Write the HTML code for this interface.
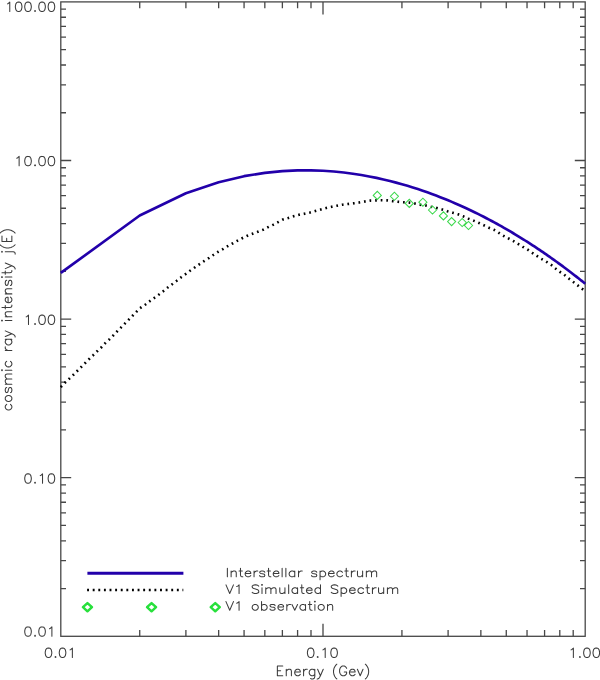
<!DOCTYPE html>
<html><head><meta charset="utf-8"><style>
html,body{margin:0;padding:0;background:#fff;}
svg{display:block;will-change:transform;}
text{font-family:"Liberation Sans",sans-serif;font-size:14.5px;fill:#3c3c3c;}
</style></head><body>
<svg width="600" height="680" viewBox="0 0 600 680">
<rect x="60.8" y="1.9" width="524.4000000000001" height="634.4" fill="none" stroke="#474747" stroke-width="1.3"/>
<path d="M139.73 636.3V630.00M139.73 1.9V8.20M185.90 636.3V630.00M185.90 1.9V8.20M218.66 636.3V630.00M218.66 1.9V8.20M244.07 636.3V630.00M244.07 1.9V8.20M264.83 636.3V630.00M264.83 1.9V8.20M282.38 636.3V630.00M282.38 1.9V8.20M297.59 636.3V630.00M297.59 1.9V8.20M311.00 636.3V630.00M311.00 1.9V8.20M323.00 636.3V623.70M323.00 1.9V14.50M401.93 636.3V630.00M401.93 1.9V8.20M448.10 636.3V630.00M448.10 1.9V8.20M480.86 636.3V630.00M480.86 1.9V8.20M506.27 636.3V630.00M506.27 1.9V8.20M527.03 636.3V630.00M527.03 1.9V8.20M544.58 636.3V630.00M544.58 1.9V8.20M559.79 636.3V630.00M559.79 1.9V8.20M573.20 636.3V630.00M573.20 1.9V8.20M60.8 588.56H66.00M585.2 588.56H580.00M60.8 560.63H66.00M585.2 560.63H580.00M60.8 540.81H66.00M585.2 540.81H580.00M60.8 525.44H66.00M585.2 525.44H580.00M60.8 512.89H66.00M585.2 512.89H580.00M60.8 502.27H66.00M585.2 502.27H580.00M60.8 493.07H66.00M585.2 493.07H580.00M60.8 484.96H66.00M585.2 484.96H580.00M60.8 477.70H71.20M585.2 477.70H574.80M60.8 429.96H66.00M585.2 429.96H580.00M60.8 402.03H66.00M585.2 402.03H580.00M60.8 382.21H66.00M585.2 382.21H580.00M60.8 366.84H66.00M585.2 366.84H580.00M60.8 354.29H66.00M585.2 354.29H580.00M60.8 343.67H66.00M585.2 343.67H580.00M60.8 334.47H66.00M585.2 334.47H580.00M60.8 326.36H66.00M585.2 326.36H580.00M60.8 319.10H71.20M585.2 319.10H574.80M60.8 271.36H66.00M585.2 271.36H580.00M60.8 243.43H66.00M585.2 243.43H580.00M60.8 223.61H66.00M585.2 223.61H580.00M60.8 208.24H66.00M585.2 208.24H580.00M60.8 195.69H66.00M585.2 195.69H580.00M60.8 185.07H66.00M585.2 185.07H580.00M60.8 175.87H66.00M585.2 175.87H580.00M60.8 167.76H66.00M585.2 167.76H580.00M60.8 160.50H71.20M585.2 160.50H574.80M60.8 112.76H66.00M585.2 112.76H580.00M60.8 84.83H66.00M585.2 84.83H580.00M60.8 65.01H66.00M585.2 65.01H580.00M60.8 49.64H66.00M585.2 49.64H580.00M60.8 37.09H66.00M585.2 37.09H580.00M60.8 26.47H66.00M585.2 26.47H580.00M60.8 17.27H66.00M585.2 17.27H580.00M60.8 9.16H66.00M585.2 9.16H580.00" stroke="#474747" stroke-width="1.3" fill="none"/>
<path d="M7.43 3.88L8.36 3.44L9.77 2.10L9.77 11.45M18.19 2.10L16.79 2.55L15.85 3.88L15.38 6.11L15.38 7.44L15.85 9.67L16.79 11.00L18.19 11.45L19.13 11.45L20.53 11.00L21.47 9.67L21.94 7.44L21.94 6.11L21.47 3.88L20.53 2.55L19.13 2.10L18.19 2.10M27.55 2.10L26.15 2.55L25.21 3.88L24.74 6.11L24.74 7.44L25.21 9.67L26.15 11.00L27.55 11.45L28.49 11.45L29.89 11.00L30.83 9.67L31.30 7.44L31.30 6.11L30.83 3.88L29.89 2.55L28.49 2.10L27.55 2.10M35.04 10.56L34.57 11.00L35.04 11.45L35.51 11.00L35.04 10.56M41.59 2.10L40.19 2.55L39.25 3.88L38.78 6.11L38.78 7.44L39.25 9.67L40.19 11.00L41.59 11.45L42.53 11.45L43.93 11.00L44.87 9.67L45.34 7.44L45.34 6.11L44.87 3.88L43.93 2.55L42.53 2.10L41.59 2.10M50.95 2.10L49.55 2.55L48.61 3.88L48.14 6.11L48.14 7.44L48.61 9.67L49.55 11.00L50.95 11.45L51.89 11.45L53.29 11.00L54.23 9.67L54.70 7.44L54.70 6.11L54.23 3.88L53.29 2.55L51.89 2.10L50.95 2.10M16.79 158.19L17.72 157.74L19.13 156.41L19.13 165.75M27.55 156.41L26.15 156.85L25.21 158.19L24.74 160.41L24.74 161.75L25.21 163.97L26.15 165.31L27.55 165.75L28.49 165.75L29.89 165.31L30.83 163.97L31.30 161.75L31.30 160.41L30.83 158.19L29.89 156.85L28.49 156.41L27.55 156.41M35.04 164.86L34.57 165.31L35.04 165.75L35.51 165.31L35.04 164.86M41.59 156.41L40.19 156.85L39.25 158.19L38.78 160.41L38.78 161.75L39.25 163.97L40.19 165.31L41.59 165.75L42.53 165.75L43.93 165.31L44.87 163.97L45.34 161.75L45.34 160.41L44.87 158.19L43.93 156.85L42.53 156.41L41.59 156.41M50.95 156.41L49.55 156.85L48.61 158.19L48.14 160.41L48.14 161.75L48.61 163.97L49.55 165.31L50.95 165.75L51.89 165.75L53.29 165.31L54.23 163.97L54.70 161.75L54.70 160.41L54.23 158.19L53.29 156.85L51.89 156.41L50.95 156.41M26.15 316.88L27.08 316.44L28.49 315.10L28.49 324.45M35.04 323.56L34.57 324.00L35.04 324.45L35.51 324.00L35.04 323.56M41.59 315.10L40.19 315.55L39.25 316.88L38.78 319.11L38.78 320.44L39.25 322.67L40.19 324.00L41.59 324.45L42.53 324.45L43.93 324.00L44.87 322.67L45.34 320.44L45.34 319.11L44.87 316.88L43.93 315.55L42.53 315.10L41.59 315.10M50.95 315.10L49.55 315.55L48.61 316.88L48.14 319.11L48.14 320.44L48.61 322.67L49.55 324.00L50.95 324.45L51.89 324.45L53.29 324.00L54.23 322.67L54.70 320.44L54.70 319.11L54.23 316.88L53.29 315.55L51.89 315.10L50.95 315.10M27.55 473.85L26.15 474.30L25.21 475.63L24.74 477.86L24.74 479.19L25.21 481.42L26.15 482.75L27.55 483.20L28.49 483.20L29.89 482.75L30.83 481.42L31.30 479.19L31.30 477.86L30.83 475.63L29.89 474.30L28.49 473.85L27.55 473.85M35.04 482.31L34.57 482.75L35.04 483.20L35.51 482.75L35.04 482.31M40.19 475.63L41.12 475.19L42.53 473.85L42.53 483.20M50.95 473.85L49.55 474.30L48.61 475.63L48.14 477.86L48.14 479.19L48.61 481.42L49.55 482.75L50.95 483.20L51.89 483.20L53.29 482.75L54.23 481.42L54.70 479.19L54.70 477.86L54.23 475.63L53.29 474.30L51.89 473.85L50.95 473.85M27.55 626.90L26.15 627.35L25.21 628.68L24.74 630.91L24.74 632.25L25.21 634.47L26.15 635.80L27.55 636.25L28.49 636.25L29.89 635.80L30.83 634.47L31.30 632.25L31.30 630.91L30.83 628.68L29.89 627.35L28.49 626.90L27.55 626.90M35.04 635.36L34.57 635.80L35.04 636.25L35.51 635.80L35.04 635.36M41.59 626.90L40.19 627.35L39.25 628.68L38.78 630.91L38.78 632.25L39.25 634.47L40.19 635.80L41.59 636.25L42.53 636.25L43.93 635.80L44.87 634.47L45.34 632.25L45.34 630.91L44.87 628.68L43.93 627.35L42.53 626.90L41.59 626.90M49.55 628.68L50.48 628.24L51.89 626.90L51.89 636.25M48.03 648.11L46.63 648.55L45.69 649.88L45.22 652.11L45.22 653.45L45.69 655.67L46.63 657.00L48.03 657.45L48.97 657.45L50.37 657.00L51.31 655.67L51.78 653.45L51.78 652.11L51.31 649.88L50.37 648.55L48.97 648.11L48.03 648.11M55.52 656.56L55.05 657.00L55.52 657.45L55.99 657.00L55.52 656.56M62.07 648.11L60.67 648.55L59.73 649.88L59.26 652.11L59.26 653.45L59.73 655.67L60.67 657.00L62.07 657.45L63.01 657.45L64.41 657.00L65.35 655.67L65.82 653.45L65.82 652.11L65.35 649.88L64.41 648.55L63.01 648.11L62.07 648.11M70.03 649.88L70.96 649.44L72.37 648.11L72.37 657.45M310.23 648.11L308.83 648.55L307.89 649.88L307.42 652.11L307.42 653.45L307.89 655.67L308.83 657.00L310.23 657.45L311.17 657.45L312.57 657.00L313.51 655.67L313.98 653.45L313.98 652.11L313.51 649.88L312.57 648.55L311.17 648.11L310.23 648.11M317.72 656.56L317.25 657.00L317.72 657.45L318.19 657.00L317.72 656.56M322.87 649.88L323.80 649.44L325.21 648.11L325.21 657.45M333.63 648.11L332.23 648.55L331.29 649.88L330.82 652.11L330.82 653.45L331.29 655.67L332.23 657.00L333.63 657.45L334.57 657.45L335.97 657.00L336.91 655.67L337.38 653.45L337.38 652.11L336.91 649.88L335.97 648.55L334.57 648.11L333.63 648.11M571.03 649.88L571.96 649.44L573.37 648.11L573.37 657.45M579.92 656.56L579.45 657.00L579.92 657.45L580.39 657.00L579.92 656.56M586.47 648.11L585.07 648.55L584.13 649.88L583.66 652.11L583.66 653.45L584.13 655.67L585.07 657.00L586.47 657.45L587.41 657.45L588.81 657.00L589.75 655.67L590.22 653.45L590.22 652.11L589.75 649.88L588.81 648.55L587.41 648.11L586.47 648.11M595.83 648.11L594.43 648.55L593.49 649.88L593.02 652.11L593.02 653.45L593.49 655.67L594.43 657.00L595.83 657.45L596.77 657.45L598.17 657.00L599.11 655.67L599.58 653.45L599.58 652.11L599.11 649.88L598.17 648.55L596.77 648.11L595.83 648.11M277.37 666.05L277.37 675.75M277.37 666.05L282.75 666.05M277.37 670.67L280.65 670.67M277.37 675.75L282.75 675.75M286.26 669.28L286.26 675.75M286.26 671.13L287.67 669.74L288.60 669.28L290.01 669.28L290.94 669.74L291.41 671.13L291.41 675.75M294.69 672.05L300.30 672.05L300.30 671.13L299.83 670.21L299.37 669.74L298.43 669.28L297.03 669.28L296.09 669.74L295.15 670.67L294.69 672.05L294.69 672.98L295.15 674.36L296.09 675.29L297.03 675.75L298.43 675.75L299.37 675.29L300.30 674.36M303.58 669.28L303.58 675.75M303.58 672.05L304.05 670.67L304.98 669.74L305.92 669.28L307.32 669.28M314.81 669.28L314.81 676.67L314.34 678.06L313.87 678.52L312.94 678.98L311.53 678.98L310.60 678.52M314.81 670.67L313.87 669.74L312.94 669.28L311.53 669.28L310.60 669.74L309.66 670.67L309.19 672.05L309.19 672.98L309.66 674.36L310.60 675.29L311.53 675.75L312.94 675.75L313.87 675.29L314.81 674.36M317.62 669.28L320.43 675.75M323.23 669.28L320.43 675.75L319.49 677.60L318.55 678.52L317.62 678.98L317.15 678.98M336.81 664.20L335.87 665.12L334.93 666.51L334.00 668.36L333.53 670.67L333.53 672.52L334.00 674.83L334.93 676.67L335.87 678.06L336.81 678.98M346.63 668.36L346.17 667.43L345.23 666.51L344.29 666.05L342.42 666.05L341.49 666.51L340.55 667.43L340.08 668.36L339.61 669.74L339.61 672.05L340.08 673.44L340.55 674.36L341.49 675.29L342.42 675.75L344.29 675.75L345.23 675.29L346.17 674.36L346.63 673.44L346.63 672.05M344.29 672.05L346.63 672.05M349.44 672.05L355.06 672.05L355.06 671.13L354.59 670.21L354.12 669.74L353.19 669.28L351.78 669.28L350.85 669.74L349.91 670.67L349.44 672.05L349.44 672.98L349.91 674.36L350.85 675.29L351.78 675.75L353.19 675.75L354.12 675.29L355.06 674.36M357.40 669.28L360.21 675.75M363.01 669.28L360.21 675.75M365.35 664.20L366.29 665.12L367.23 666.51L368.16 668.36L368.63 670.67L368.63 672.52L368.16 674.83L367.23 676.67L366.29 678.06L365.35 678.98M6.68 404.33L5.74 405.27L5.27 406.21L5.27 407.61L5.74 408.55L6.68 409.48L8.09 409.95L9.03 409.95L10.44 409.48L11.38 408.55L11.85 407.61L11.85 406.21L11.38 405.27L10.44 404.33M5.27 399.19L5.74 400.12L6.68 401.06L8.09 401.53L9.03 401.53L10.44 401.06L11.38 400.12L11.85 399.19L11.85 397.78L11.38 396.85L10.44 395.91L9.03 395.44L8.09 395.44L6.68 395.91L5.74 396.85L5.27 397.78L5.27 399.19M6.68 387.49L5.74 387.95L5.27 389.36L5.27 390.76L5.74 392.17L6.68 392.63L7.62 392.17L8.09 391.23L8.56 388.89L9.03 387.95L9.97 387.49L10.44 387.49L11.38 387.95L11.85 389.36L11.85 390.76L11.38 392.17L10.44 392.63M5.27 384.21L11.85 384.21M7.15 384.21L5.74 382.81L5.27 381.87L5.27 380.47L5.74 379.53L7.15 379.06L11.85 379.06M7.15 379.06L5.74 377.66L5.27 376.72L5.27 375.32L5.74 374.38L7.15 373.91L11.85 373.91M1.98 370.64L2.45 370.17L1.98 369.70L1.51 370.17L1.98 370.64M5.27 370.17L11.85 370.17M6.68 361.28L5.74 362.21L5.27 363.15L5.27 364.55L5.74 365.49L6.68 366.43L8.09 366.89L9.03 366.89L10.44 366.43L11.38 365.49L11.85 364.55L11.85 363.15L11.38 362.21L10.44 361.28M5.27 350.51L11.85 350.51M8.09 350.51L6.68 350.05L5.74 349.11L5.27 348.17L5.27 346.77M5.27 339.28L11.85 339.28M6.68 339.28L5.74 340.22L5.27 341.15L5.27 342.56L5.74 343.49L6.68 344.43L8.09 344.90L9.03 344.90L10.44 344.43L11.38 343.49L11.85 342.56L11.85 341.15L11.38 340.22L10.44 339.28M5.27 336.47L11.85 333.67M5.27 330.86L11.85 333.67L13.73 334.60L14.67 335.54L15.14 336.47L15.14 336.94M1.98 321.03L2.45 320.56L1.98 320.09L1.51 320.56L1.98 321.03M5.27 320.56L11.85 320.56M5.27 316.82L11.85 316.82M7.15 316.82L5.74 315.41L5.27 314.48L5.27 313.07L5.74 312.14L7.15 311.67L11.85 311.67M1.98 307.46L9.97 307.46L11.38 306.99L11.85 306.05L11.85 305.12M5.27 308.86L5.27 305.59M8.09 302.78L8.09 297.16L7.15 297.16L6.21 297.63L5.74 298.10L5.27 299.03L5.27 300.44L5.74 301.37L6.68 302.31L8.09 302.78L9.03 302.78L10.44 302.31L11.38 301.37L11.85 300.44L11.85 299.03L11.38 298.10L10.44 297.16M5.27 293.89L11.85 293.89M7.15 293.89L5.74 292.48L5.27 291.55L5.27 290.14L5.74 289.21L7.15 288.74L11.85 288.74M6.68 280.31L5.74 280.78L5.27 282.19L5.27 283.59L5.74 284.99L6.68 285.46L7.62 284.99L8.09 284.06L8.56 281.72L9.03 280.78L9.97 280.31L10.44 280.31L11.38 280.78L11.85 282.19L11.85 283.59L11.38 284.99L10.44 285.46M1.98 277.51L2.45 277.04L1.98 276.57L1.51 277.04L1.98 277.51M5.27 277.04L11.85 277.04M1.98 272.83L9.97 272.83L11.38 272.36L11.85 271.42L11.85 270.49M5.27 274.23L5.27 270.95M5.27 268.61L11.85 265.81M5.27 263.00L11.85 265.81L13.73 266.74L14.67 267.68L15.14 268.61L15.14 269.08M1.98 252.23L2.45 251.77L1.98 251.30L1.51 251.77L1.98 252.23M5.27 251.77L13.26 251.77L14.67 252.23L15.14 253.17L15.14 254.11M0.10 244.75L1.04 245.68L2.45 246.62L4.33 247.55L6.68 248.02L8.56 248.02L10.91 247.55L12.79 246.62L14.20 245.68L15.14 244.75M1.98 241.47L11.85 241.47M1.98 241.47L1.98 236.09M6.68 241.47L6.68 238.19M11.85 241.47L11.85 236.09M0.10 233.05L1.04 232.11L2.45 231.17L4.33 230.24L6.68 229.77L8.56 229.77L10.91 230.24L12.79 231.17L14.20 232.11L15.14 233.05M227.37 568.19L227.37 576.80M231.12 571.06L231.12 576.80M231.12 572.70L232.52 571.47L233.46 571.06L234.86 571.06L235.80 571.47L236.26 572.70L236.26 576.80M240.48 568.19L240.48 575.16L240.94 576.39L241.88 576.80L242.82 576.80M239.07 571.06L242.35 571.06M245.16 573.52L250.77 573.52L250.77 572.70L250.30 571.88L249.84 571.47L248.90 571.06L247.50 571.06L246.56 571.47L245.62 572.29L245.16 573.52L245.16 574.34L245.62 575.57L246.56 576.39L247.50 576.80L248.90 576.80L249.84 576.39L250.77 575.57M254.05 571.06L254.05 576.80M254.05 573.52L254.52 572.29L255.45 571.47L256.39 571.06L257.79 571.06M264.81 572.29L264.34 571.47L262.94 571.06L261.54 571.06L260.13 571.47L259.66 572.29L260.13 573.11L261.07 573.52L263.41 573.93L264.34 574.34L264.81 575.16L264.81 575.57L264.34 576.39L262.94 576.80L261.54 576.80L260.13 576.39L259.66 575.57M268.56 568.19L268.56 575.16L269.02 576.39L269.96 576.80L270.90 576.80M267.15 571.06L270.43 571.06M273.24 573.52L278.85 573.52L278.85 572.70L278.38 571.88L277.92 571.47L276.98 571.06L275.58 571.06L274.64 571.47L273.70 572.29L273.24 573.52L273.24 574.34L273.70 575.57L274.64 576.39L275.58 576.80L276.98 576.80L277.92 576.39L278.85 575.57M282.13 568.19L282.13 576.80M285.87 568.19L285.87 576.80M294.76 571.06L294.76 576.80M294.76 572.29L293.83 571.47L292.89 571.06L291.49 571.06L290.55 571.47L289.62 572.29L289.15 573.52L289.15 574.34L289.62 575.57L290.55 576.39L291.49 576.80L292.89 576.80L293.83 576.39L294.76 575.57M298.51 571.06L298.51 576.80M298.51 573.52L298.98 572.29L299.91 571.47L300.85 571.06L302.25 571.06M316.76 572.29L316.29 571.47L314.89 571.06L313.48 571.06L312.08 571.47L311.61 572.29L312.08 573.11L313.02 573.52L315.36 573.93L316.29 574.34L316.76 575.16L316.76 575.57L316.29 576.39L314.89 576.80L313.48 576.80L312.08 576.39L311.61 575.57M320.04 571.06L320.04 579.67M320.04 572.29L320.97 571.47L321.91 571.06L323.31 571.06L324.25 571.47L325.18 572.29L325.65 573.52L325.65 574.34L325.18 575.57L324.25 576.39L323.31 576.80L321.91 576.80L320.97 576.39L320.04 575.57M328.46 573.52L334.08 573.52L334.08 572.70L333.61 571.88L333.14 571.47L332.20 571.06L330.80 571.06L329.86 571.47L328.93 572.29L328.46 573.52L328.46 574.34L328.93 575.57L329.86 576.39L330.80 576.80L332.20 576.80L333.14 576.39L334.08 575.57M342.50 572.29L341.56 571.47L340.63 571.06L339.22 571.06L338.29 571.47L337.35 572.29L336.88 573.52L336.88 574.34L337.35 575.57L338.29 576.39L339.22 576.80L340.63 576.80L341.56 576.39L342.50 575.57M346.24 568.19L346.24 575.16L346.71 576.39L347.65 576.80L348.58 576.80M344.84 571.06L348.12 571.06M351.39 571.06L351.39 576.80M351.39 573.52L351.86 572.29L352.80 571.47L353.73 571.06L355.14 571.06M357.48 571.06L357.48 575.16L357.94 576.39L358.88 576.80L360.28 576.80L361.22 576.39L362.62 575.16M362.62 571.06L362.62 576.80M366.37 571.06L366.37 576.80M366.37 572.70L367.77 571.47L368.71 571.06L370.11 571.06L371.05 571.47L371.52 572.70L371.52 576.80M371.52 572.70L372.92 571.47L373.86 571.06L375.26 571.06L376.20 571.47L376.66 572.70L376.66 576.80M225.97 584.89L229.71 593.50M233.46 584.89L229.71 593.50M236.73 586.53L237.67 586.12L239.07 584.89L239.07 593.50M258.73 586.12L257.79 585.30L256.39 584.89L254.52 584.89L253.11 585.30L252.18 586.12L252.18 586.94L252.64 587.76L253.11 588.17L254.05 588.58L256.86 589.40L257.79 589.81L258.26 590.22L258.73 591.04L258.73 592.27L257.79 593.09L256.39 593.50L254.52 593.50L253.11 593.09L252.18 592.27M261.54 584.89L262.00 585.30L262.47 584.89L262.00 584.48L261.54 584.89M262.00 587.76L262.00 593.50M265.75 587.76L265.75 593.50M265.75 589.40L267.15 588.17L268.09 587.76L269.49 587.76L270.43 588.17L270.90 589.40L270.90 593.50M270.90 589.40L272.30 588.17L273.24 587.76L274.64 587.76L275.58 588.17L276.04 589.40L276.04 593.50M279.79 587.76L279.79 591.86L280.26 593.09L281.19 593.50L282.60 593.50L283.53 593.09L284.94 591.86M284.94 587.76L284.94 593.50M288.68 584.89L288.68 593.50M297.57 587.76L297.57 593.50M297.57 588.99L296.64 588.17L295.70 587.76L294.30 587.76L293.36 588.17L292.42 588.99L291.96 590.22L291.96 591.04L292.42 592.27L293.36 593.09L294.30 593.50L295.70 593.50L296.64 593.09L297.57 592.27M301.78 584.89L301.78 591.86L302.25 593.09L303.19 593.50L304.12 593.50M300.38 587.76L303.66 587.76M306.46 590.22L312.08 590.22L312.08 589.40L311.61 588.58L311.14 588.17L310.21 587.76L308.80 587.76L307.87 588.17L306.93 588.99L306.46 590.22L306.46 591.04L306.93 592.27L307.87 593.09L308.80 593.50L310.21 593.50L311.14 593.09L312.08 592.27M320.50 584.89L320.50 593.50M320.50 588.99L319.57 588.17L318.63 587.76L317.23 587.76L316.29 588.17L315.36 588.99L314.89 590.22L314.89 591.04L315.36 592.27L316.29 593.09L317.23 593.50L318.63 593.50L319.57 593.09L320.50 592.27M337.82 586.12L336.88 585.30L335.48 584.89L333.61 584.89L332.20 585.30L331.27 586.12L331.27 586.94L331.74 587.76L332.20 588.17L333.14 588.58L335.95 589.40L336.88 589.81L337.35 590.22L337.82 591.04L337.82 592.27L336.88 593.09L335.48 593.50L333.61 593.50L332.20 593.09L331.27 592.27M341.10 587.76L341.10 596.37M341.10 588.99L342.03 588.17L342.97 587.76L344.37 587.76L345.31 588.17L346.24 588.99L346.71 590.22L346.71 591.04L346.24 592.27L345.31 593.09L344.37 593.50L342.97 593.50L342.03 593.09L341.10 592.27M349.52 590.22L355.14 590.22L355.14 589.40L354.67 588.58L354.20 588.17L353.26 587.76L351.86 587.76L350.92 588.17L349.99 588.99L349.52 590.22L349.52 591.04L349.99 592.27L350.92 593.09L351.86 593.50L353.26 593.50L354.20 593.09L355.14 592.27M363.56 588.99L362.62 588.17L361.69 587.76L360.28 587.76L359.35 588.17L358.41 588.99L357.94 590.22L357.94 591.04L358.41 592.27L359.35 593.09L360.28 593.50L361.69 593.50L362.62 593.09L363.56 592.27M367.30 584.89L367.30 591.86L367.77 593.09L368.71 593.50L369.64 593.50M365.90 587.76L369.18 587.76M372.45 587.76L372.45 593.50M372.45 590.22L372.92 588.99L373.86 588.17L374.79 587.76L376.20 587.76M378.54 587.76L378.54 591.86L379.00 593.09L379.94 593.50L381.34 593.50L382.28 593.09L383.68 591.86M383.68 587.76L383.68 593.50M387.43 587.76L387.43 593.50M387.43 589.40L388.83 588.17L389.77 587.76L391.17 587.76L392.11 588.17L392.58 589.40L392.58 593.50M392.58 589.40L393.98 588.17L394.92 587.76L396.32 587.76L397.26 588.17L397.72 589.40L397.72 593.50M225.97 601.59L229.71 610.20M233.46 601.59L229.71 610.20M236.73 603.23L237.67 602.82L239.07 601.59L239.07 610.20M254.52 604.46L253.58 604.87L252.64 605.69L252.18 606.92L252.18 607.74L252.64 608.97L253.58 609.79L254.52 610.20L255.92 610.20L256.86 609.79L257.79 608.97L258.26 607.74L258.26 606.92L257.79 605.69L256.86 604.87L255.92 604.46L254.52 604.46M261.54 601.59L261.54 610.20M261.54 605.69L262.47 604.87L263.41 604.46L264.81 604.46L265.75 604.87L266.68 605.69L267.15 606.92L267.15 607.74L266.68 608.97L265.75 609.79L264.81 610.20L263.41 610.20L262.47 609.79L261.54 608.97M275.11 605.69L274.64 604.87L273.24 604.46L271.83 604.46L270.43 604.87L269.96 605.69L270.43 606.51L271.36 606.92L273.70 607.33L274.64 607.74L275.11 608.56L275.11 608.97L274.64 609.79L273.24 610.20L271.83 610.20L270.43 609.79L269.96 608.97M277.92 606.92L283.53 606.92L283.53 606.10L283.06 605.28L282.60 604.87L281.66 604.46L280.26 604.46L279.32 604.87L278.38 605.69L277.92 606.92L277.92 607.74L278.38 608.97L279.32 609.79L280.26 610.20L281.66 610.20L282.60 609.79L283.53 608.97M286.81 604.46L286.81 610.20M286.81 606.92L287.28 605.69L288.21 604.87L289.15 604.46L290.55 604.46M291.96 604.46L294.76 610.20M297.57 604.46L294.76 610.20M305.53 604.46L305.53 610.20M305.53 605.69L304.59 604.87L303.66 604.46L302.25 604.46L301.32 604.87L300.38 605.69L299.91 606.92L299.91 607.74L300.38 608.97L301.32 609.79L302.25 610.20L303.66 610.20L304.59 609.79L305.53 608.97M309.74 601.59L309.74 608.56L310.21 609.79L311.14 610.20L312.08 610.20M308.34 604.46L311.61 604.46M314.42 601.59L314.89 602.00L315.36 601.59L314.89 601.18L314.42 601.59M314.89 604.46L314.89 610.20M320.50 604.46L319.57 604.87L318.63 605.69L318.16 606.92L318.16 607.74L318.63 608.97L319.57 609.79L320.50 610.20L321.91 610.20L322.84 609.79L323.78 608.97L324.25 607.74L324.25 606.92L323.78 605.69L322.84 604.87L321.91 604.46L320.50 604.46M327.52 604.46L327.52 610.20M327.52 606.10L328.93 604.87L329.86 604.46L331.27 604.46L332.20 604.87L332.67 606.10L332.67 610.20" fill="none" stroke="#3c3c3c" stroke-width="1.05" stroke-linecap="round" stroke-linejoin="round"/>
<path d="M60.80 272.94 L139.73 215.51 L185.90 193.28 L218.66 182.21 L244.07 176.17 L264.83 172.84 L282.38 171.10 L297.59 170.38 L311.00 170.35 L323.00 170.78 L333.85 171.54 L343.76 172.55 L352.88 173.73 L361.31 175.03 L369.17 176.44 L376.52 177.92 L383.42 179.44 L389.93 181.01 L396.09 182.60 L401.93 184.21 L407.49 185.83 L412.78 187.46 L417.85 189.08 L422.69 190.71 L427.34 192.33 L431.81 193.95 L436.10 195.56 L440.24 197.15 L444.24 198.74 L448.10 200.32 L451.84 201.88 L455.45 203.43 L458.95 204.97 L462.35 206.49 L465.65 208.01 L468.86 209.51 L471.98 210.99 L475.02 212.46 L477.98 213.92 L480.86 215.37 L483.67 216.80 L486.42 218.22 L489.10 219.62 L491.71 221.02 L494.27 222.40 L496.78 223.77 L499.22 225.12 L501.62 226.46 L503.97 227.80 L506.27 229.12 L508.52 230.42 L510.74 231.72 L512.91 233.01 L515.03 234.28 L517.12 235.55 L519.17 236.80 L521.19 238.04 L523.17 239.28 L525.12 240.50 L527.03 241.71 L528.91 242.91 L530.77 244.11 L532.59 245.29 L534.38 246.47 L536.15 247.63 L537.88 248.79 L539.60 249.94 L541.28 251.07 L542.95 252.20 L544.58 253.33 L546.20 254.44 L547.79 255.55 L549.36 256.64 L550.91 257.73 L552.44 258.82 L553.95 259.89 L555.44 260.96 L556.91 262.02 L558.36 263.07 L559.79 264.12 L561.20 265.16 L562.60 266.19 L563.98 267.21 L565.35 268.23 L566.69 269.24 L568.03 270.25 L569.34 271.25 L570.64 272.24 L571.93 273.22 L573.20 274.20 L574.46 275.18 L575.71 276.15 L576.94 277.11 L578.15 278.06 L579.36 279.02 L580.55 279.96 L581.73 280.90 L582.90 281.83 L584.06 282.76 L585.20 283.69" stroke="#2200aa" stroke-width="2.65" fill="none" stroke-linejoin="round"/>
<path d="M60.80 387.20 L65.20 382.50 L69.20 378.80 L73.20 375.00 L77.20 371.00 L81.20 367.00 L85.20 363.00 L89.20 359.00 L93.20 355.20 L97.20 351.20 L101.20 347.50 L105.20 343.20 L109.20 339.50 L113.20 335.50 L117.00 331.50 L132.80 315.50 L139.70 308.40 L145.50 304.50 L150.00 301.00 L154.50 297.80 L159.00 294.50 L163.50 291.00 L167.80 287.50 L172.20 284.20 L176.70 280.80 L181.20 277.20 L185.70 274.00 L190.00 270.80 L194.70 267.50 L199.30 264.30 L204.00 261.20 L208.70 258.20 L213.30 255.00 L218.40 251.70 L222.80 249.20 L227.70 246.20 L232.50 243.50 L237.20 240.80 L242.20 238.20 L247.30 235.80 L252.50 233.80 L257.80 231.80 L263.00 229.80 L268.00 227.20 L273.00 224.80 L278.00 222.20 L283.00 219.50 L288.20 218.00 L293.50 216.30 L299.00 214.80 L304.50 213.70 L310.00 212.50 L315.30 211.00 L320.80 209.50 L326.20 208.00 L331.70 206.80 L337.00 205.70 L342.50 204.70 L348.00 204.00 L353.80 203.30 L359.20 202.50 L364.80 201.50 L370.30 200.60 L376.00 200.40 L381.60 200.30 L387.00 200.40 L392.70 201.20 L398.20 201.80 L403.80 202.30 L409.20 202.60 L414.70 203.50 L420.20 204.70 L425.80 205.50 L431.20 206.80 L436.80 208.00 L442.00 209.50 L447.30 211.20 L452.60 212.70 L458.00 214.30 L463.20 216.30 L468.30 218.60 L473.50 220.60 L478.50 222.80 L483.70 225.20 L489.00 227.80 L494.00 229.80 L503.00 235.50 L508.00 238.20 L513.00 240.80 L518.00 243.80 L522.80 246.80 L527.50 249.50 L532.20 252.80 L536.80 255.80 L541.20 258.80 L546.00 261.50 L551.00 264.60 L555.00 268.20 L559.60 271.70 L564.20 274.80 L568.50 278.30 L573.00 281.75 L577.25 285.00 L581.75 288.50 L585.20 291.20" stroke="#000" stroke-width="2.6" fill="none" stroke-dasharray="1.7 3.9" stroke-linejoin="round"/>
<path d="M373.25 195.40L377.30 191.35L381.35 195.40L377.30 199.45ZM390.35 196.30L394.40 192.25L398.45 196.30L394.40 200.35ZM405.25 203.40L409.30 199.35L413.35 203.40L409.30 207.45ZM418.85 202.20L422.90 198.15L426.95 202.20L422.90 206.25ZM428.45 210.00L432.50 205.95L436.55 210.00L432.50 214.05ZM439.35 215.90L443.40 211.85L447.45 215.90L443.40 219.95ZM447.55 221.60L451.60 217.55L455.65 221.60L451.60 225.65ZM458.15 222.50L462.20 218.45L466.25 222.50L462.20 226.55ZM464.45 225.50L468.50 221.45L472.55 225.50L468.50 229.55Z" stroke="#3cd84c" stroke-width="1.05" fill="none"/>
<path d="M87.4 573.25H183.4" stroke="#2200aa" stroke-width="2.8"/>
<path d="M87.1 590.0H183.3" stroke="#000" stroke-width="2.4" stroke-dasharray="1.9 3.71"/>
<path d="M82.95 607.20L87.45 603.10L91.95 607.20L87.45 611.30ZM147.05 607.20L151.55 603.10L156.05 607.20L151.55 611.30ZM210.75 607.20L215.25 603.10L219.75 607.20L215.25 611.30Z" stroke="#28e03c" stroke-width="2.5" fill="none" stroke-linejoin="round"/>
</svg>
</body></html>
